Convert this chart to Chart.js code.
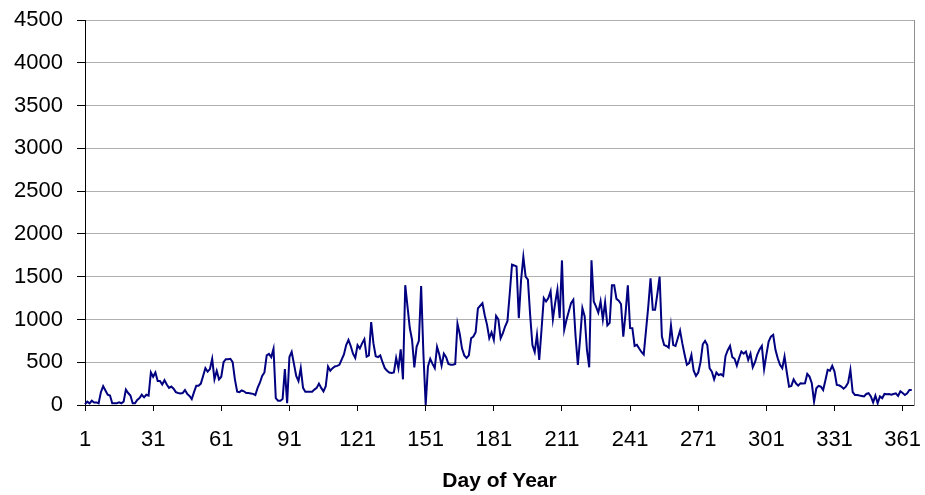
<!DOCTYPE html>
<html>
<head>
<meta charset="utf-8">
<script src="https://cdn.jsdelivr.net/npm/chart.js@4.4.1/dist/chart.umd.min.js"></script>
<style>
    html, body { margin: 0; padding: 0; background: #fff; }
    #wrap { width: 925px; height: 495px; }
</style>
</head>
<body>
<div id="wrap"><canvas id="myChart"></canvas></div>
<script>
// daily values
var jan = [10, 40, 20, 50, 30, 30, 20, 150, 220, 170, 120, 110, 20, 20, 20, 30, 20, 40, 180, 140, 110, 20, 20, 60, 80, 120, 90, 120, 110, 380, 330];
var feb = [380, 280, 280, 240, 290, 240, 200, 215, 190, 150, 140, 135, 140, 175, 130, 105, 70, 150, 226, 226, 250, 340, 430, 390, 420, 540, 300, 400, 300];
var mar = [330, 500, 535, 535, 540, 500, 300, 156, 150, 170, 160, 140, 140, 135, 130, 117, 200, 260, 340, 380, 580, 598, 560, 656, 80, 50, 50, 70, 420, 20, 560];
var apr = [620, 480, 340, 280, 430, 200, 156, 156, 156, 156, 180, 200, 250, 200, 160, 220, 450, 400, 430, 450, 457, 470, 530, 590, 700, 760, 690, 600, 550, 700];
var may = [660, 720, 770, 566, 580, 970, 720, 570, 560, 580, 500, 430, 400, 380, 375, 380, 550, 430, 650, 300, 1400, 1150, 900, 760, 440, 680, 750, 1390, 600, 0, 450];
var jun = [540, 480, 430, 680, 590, 460, 600, 560, 480, 470, 470, 480, 950, 830, 660, 580, 550, 580, 780, 800, 850, 1130, 1160, 1190, 1050, 940, 780, 850, 760, 1040];
var jul = [1000, 780, 840, 920, 980, 1300, 1640, 1630, 1620, 1016, 1460, 1730, 1500, 1465, 1050, 700, 620, 820, 527, 880, 1250, 1210, 1250, 1330, 1000, 1191, 1348, 1016, 1690, 880, 996];
var aug = [1094, 1191, 1230, 800, 469, 781, 1133, 1035, 645, 441, 1691, 1210, 1150, 1080, 1210, 1000, 1200, 930, 960, 1400, 1400, 1240, 1220, 1180, 800, 1070, 1400, 900, 898, 690, 703];
var sep = [660, 620, 590, 870, 1150, 1480, 1113, 1113, 1300, 1500, 800, 700, 690, 670, 930, 700, 690, 780, 870, 720, 590, 470, 490, 586, 400, 340, 380, 500, 710, 750];
var oct = [700, 430, 390, 300, 380, 350, 360, 340, 570, 640, 690, 560, 540, 460, 550, 625, 600, 625, 527, 600, 441, 500, 590, 650, 691, 420, 586, 742, 800, 820, 645];
var nov = [547, 469, 430, 566, 380, 215, 223, 300, 254, 227, 254, 250, 254, 363, 332, 254, 39, 195, 223, 215, 175, 290, 410, 400, 457, 390, 234, 230, 215, 190];
var dec = [215, 260, 410, 150, 117, 117, 110, 105, 100, 129, 137, 100, 30, 110, 20, 100, 80, 129, 125, 129, 120, 129, 137, 105, 160, 140, 117, 137, 175, 175];

var dayValues = jan.concat(feb, mar, apr, may, jun, jul, aug, sep, oct, nov, dec);

var dayCount = 366;          // axis runs to 366, last day has no value
var days = [];
for (var i = 1; i <= dayCount; i++) {
    days.push(String(i));
}
var xTickEvery = 30;         // labels 1, 31, 61 ... 361
var yMax = 4500;
var yStep = 500;

var fontName = "'Liberation Sans', Arial, sans-serif";

var ctx = document.getElementById("myChart").getContext('2d');
var myChart = new Chart(ctx, {
    type: 'line',
    data: {
        labels: days,
        datasets: [{
            label: "Day of Year",
            data: dayValues,
            borderColor: '#000080',
            backgroundColor: '#000080',
            borderWidth: 2,
            pointRadius: 0,
            tension: 0,
            fill: false
        }]
    },
    options: {
        responsive: true,
        maintainAspectRatio: false,
        animation: false,
        layout: {
            padding: { left: 0, right: 11, top: 20, bottom: 0 }
        },
        plugins: {
            legend: { display: false },
            tooltip: { enabled: false }
        },
        scales: {
            x: {
                type: 'category',
                offset: false,
                afterFit: function (scale) {
                    scale.height = 90;
                    scale.paddingLeft = 0;
                    scale.paddingRight = 0;
                },
                border: { display: true, color: '#000', width: 1 },
                grid: {
                    drawOnChartArea: false,
                    drawTicks: true,
                    tickLength: 6,
                    color: function (c) { return c.index % xTickEvery === 0 ? '#000' : 'rgba(0,0,0,0)'; },
                    tickColor: function (c) { return c.index % xTickEvery === 0 ? '#000' : 'rgba(0,0,0,0)'; }
                },
                ticks: {
                    autoSkip: false,
                    maxRotation: 0,
                    minRotation: 0,
                    padding: 16,
                    color: '#000',
                    font: { family: fontName, size: 22 },
                    callback: function (value, index) {
                        return index % xTickEvery === 0 ? days[index] : '';
                    }
                },
                title: {
                    display: true,
                    text: 'Day of Year',
                    color: '#000',
                    font: { family: fontName, size: 21, weight: 'bold' },
                    padding: { top: 0, bottom: 1 }
                }
            },
            y: {
                min: 0,
                max: yMax,
                afterFit: function (scale) {
                    scale.width = 85;
                    scale.paddingTop = 0;
                    scale.paddingBottom = 0;
                },
                border: { display: true, color: '#000', width: 1 },
                grid: {
                    color: function (c) { return c.tick && c.tick.value === 0 ? '#000' : '#b0b0b0'; },
                    tickColor: '#000',
                    tickLength: 8,
                    lineWidth: 1
                },
                ticks: {
                    stepSize: yStep,
                    padding: 14,
                    color: '#000',
                    font: { family: fontName, size: 22 },
                    callback: function (value) { return String(value); }
                }
            },
            y2: {
                position: 'right',
                min: 0,
                max: yMax,
                afterFit: function (scale) {
                    scale.width = 0;
                    scale.paddingTop = 0;
                    scale.paddingBottom = 0;
                },
                border: { display: true, color: '#909090', width: 1 },
                grid: { drawOnChartArea: false, drawTicks: false },
                ticks: { display: false }
            }
        }
    }
});
</script>
</body>
</html>
